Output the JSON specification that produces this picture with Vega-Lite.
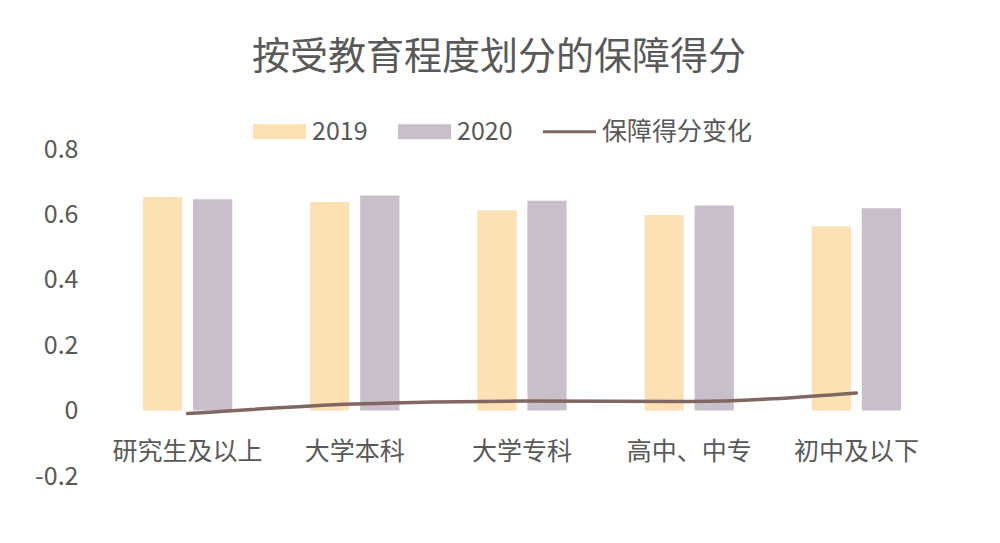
{
  "$schema": "https://vega.github.io/schema/vega-lite/v6.json",
  "autosize": {"type": "none"},
  "padding": {"left": 104, "top": 149, "right": 60, "bottom": 67},
  "width": 836,
  "height": 327,
  "background": "white",
  "title": {
    "text": "按受教育程度划分的保障得分",
    "fontSize": 38,
    "font": "Noto Sans CJK SC",
    "fontWeight": "normal",
    "color": "#595959",
    "anchor": "middle",
    "dx": -23,
    "baseline": "middle",
    "offset": 9
  },
  "datasets": {
    "bars": [
      {"学历": "研究生及以上", "年份": "2019", "得分": 0.653},
      {"学历": "研究生及以上", "年份": "2020", "得分": 0.646},
      {"学历": "大学本科", "年份": "2019", "得分": 0.638},
      {"学历": "大学本科", "年份": "2020", "得分": 0.658},
      {"学历": "大学专科", "年份": "2019", "得分": 0.613},
      {"学历": "大学专科", "年份": "2020", "得分": 0.642},
      {"学历": "高中、中专", "年份": "2019", "得分": 0.598},
      {"学历": "高中、中专", "年份": "2020", "得分": 0.627},
      {"学历": "初中及以下", "年份": "2019", "得分": 0.564},
      {"学历": "初中及以下", "年份": "2020", "得分": 0.619}
    ],
    "change": [
      {"学历": "研究生及以上", "变化": -0.009},
      {"学历": "大学本科", "变化": 0.020},
      {"学历": "大学专科", "变化": 0.029},
      {"学历": "高中、中专", "变化": 0.028},
      {"学历": "初中及以下", "变化": 0.054}
    ]
  },
  "layer": [
    {
      "data": {"name": "bars"},
      "mark": {"type": "bar"},
      "encoding": {
        "x": {"field": "学历", "type": "nominal", "sort": null},
        "xOffset": {"field": "年份", "type": "nominal", "scale": {"paddingInner": 0.215, "paddingOuter": 0}},
        "y": {"field": "得分", "type": "quantitative"},
        "color": {"field": "年份", "type": "nominal"}
      }
    },
    {
      "data": {"name": "change"},
      "mark": {"type": "line", "interpolate": "monotone", "strokeWidth": 3.5, "strokeCap": "round"},
      "encoding": {
        "x": {"field": "学历", "type": "nominal", "sort": null},
        "y": {"field": "变化", "type": "quantitative"},
        "color": {"datum": "保障得分变化"}
      }
    }
  ],
  "resolve": {"scale": {"color": "shared"}},
  "encoding": {
    "x": {
      "field": "学历", "type": "nominal", "sort": null,
      "scale": {"paddingInner": 0.466, "paddingOuter": 0.233},
      "axis": {
        "title": null, "orient": "bottom", "offset": -65.4,
        "domain": false, "ticks": false, "labelAngle": 0,
        "labelFontSize": 25, "labelColor": "#595959", "labelFont": "Noto Sans CJK SC",
        "labelPadding": 29
      }
    },
    "y": {
      "type": "quantitative",
      "scale": {"domain": [-0.2, 0.8], "nice": false, "zero": false},
      "axis": {
        "title": null, "domain": false, "ticks": false, "grid": false,
        "values": [-0.2, 0, 0.2, 0.4, 0.6, 0.8],
        "labelExpr": "datum.value < -0.0001 ? '-' + format(-datum.value, '.1~f') : format(datum.value, '.1~f')",
        "labelFontSize": 25, "labelColor": "#595959", "labelFont": "Noto Sans CJK SC",
        "labelPadding": 26
      }
    },
    "color": {
      "type": "nominal",
      "scale": {
        "domain": ["2019", "2020", "保障得分变化"],
        "range": ["#FDE1B5", "#C9BFCB", "#806762"]
      },
      "legend": {
        "title": null,
        "orient": "none",
        "legendX": 149,
        "legendY": -44,
        "direction": "horizontal",
        "symbolSize": 2809,
        "labelFontSize": 25,
        "labelColor": "#595959",
        "labelFont": "Noto Sans CJK SC",
        "labelOffset": 6,
        "columnPadding": 30,
        "encode": {
          "symbols": {
            "update": {
              "shape": {"signal": "datum.value === '保障得分变化' ? 'M-1,-0.06H1V0.06H-1Z' : 'M-1,-0.283H1V0.283H-1Z'"},
              "fill": {"scale": "color", "field": "value"},
              "stroke": {"value": "transparent"},
              "strokeWidth": {"value": 0},
              "fillOpacity": {"value": 1},
              "opacity": {"value": 1}
            }
          }
        }
      }
    }
  },
  "config": {
    "font": "Noto Sans CJK SC",
    "view": {"stroke": null}
  }
}
